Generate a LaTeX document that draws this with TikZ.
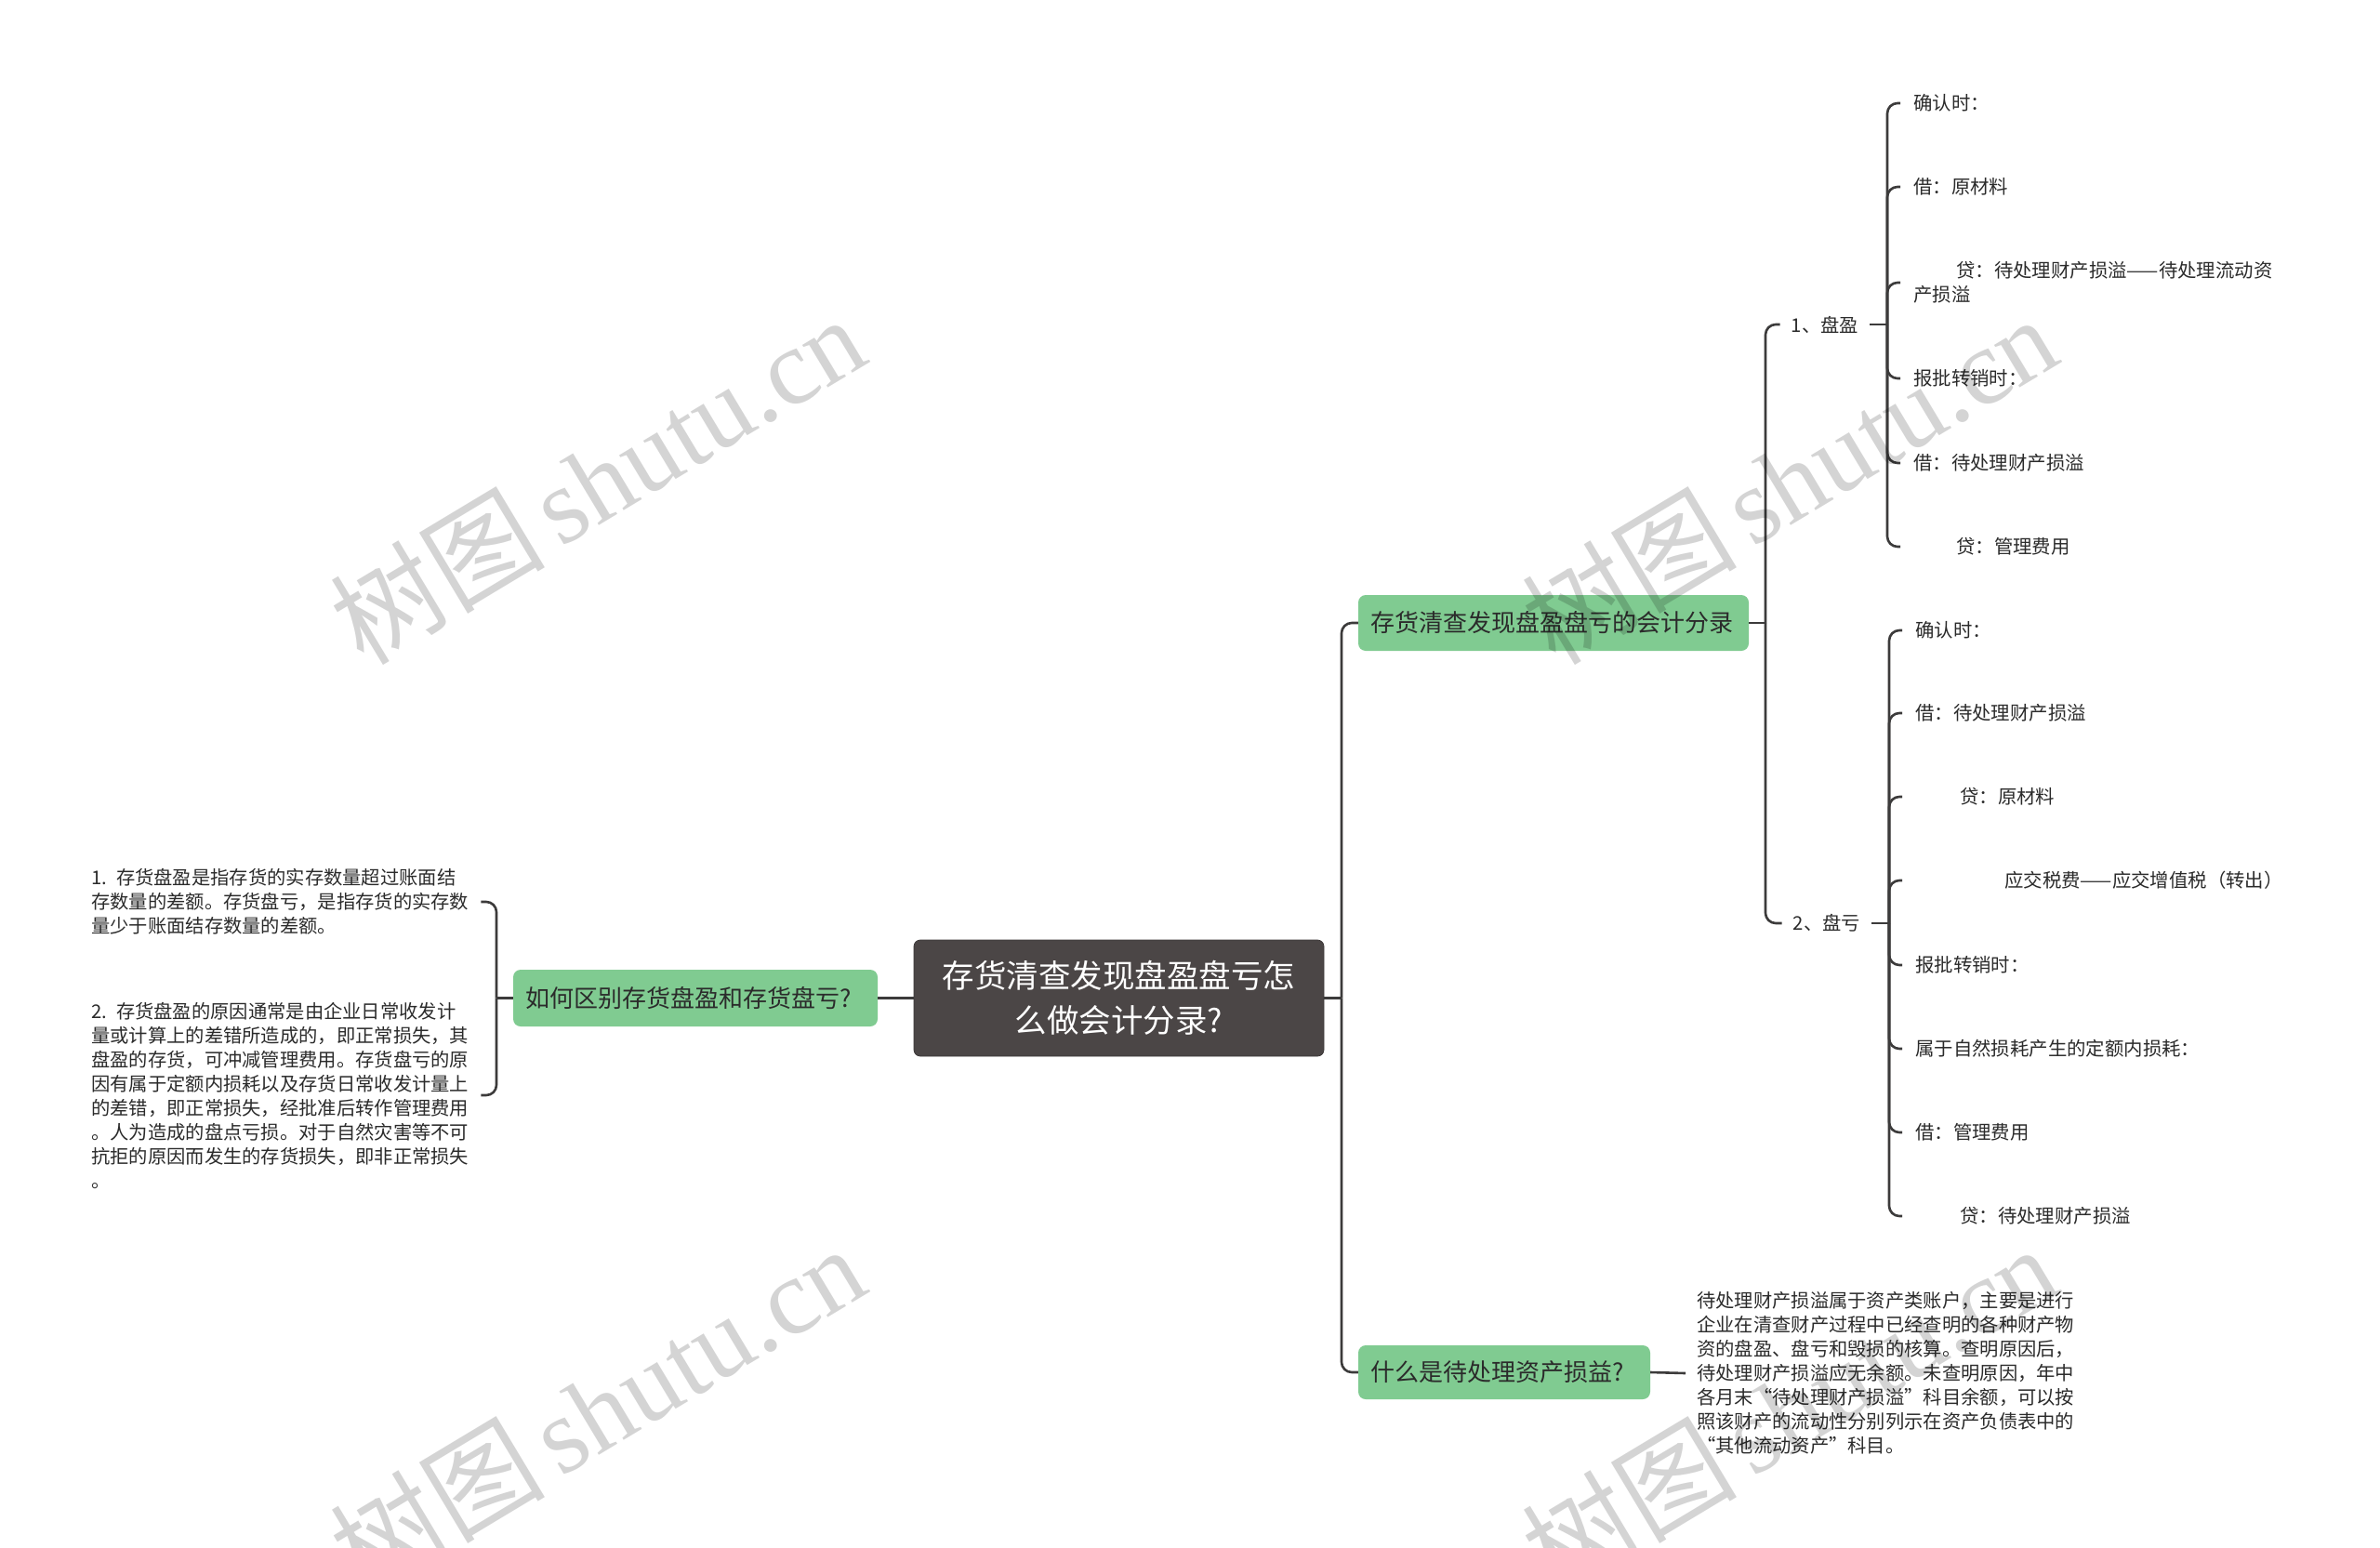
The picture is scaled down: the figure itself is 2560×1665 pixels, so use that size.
\documentclass[tikz,border=0pt]{standalone}
\usepackage{fontspec}
\setmainfont{Noto Sans CJK SC}
\newfontfamily\wmlatin{Liberation Serif}
\newfontfamily\wmcjk{Noto Sans CJK SC}
\definecolor{linec}{HTML}{3C3B3B}
\definecolor{centralfill}{HTML}{4B4646}
\definecolor{topicfill}{HTML}{80CB91}
\definecolor{textc}{HTML}{2B2B2B}
\tikzset{
  conn/.style={draw=linec, line width=2.6pt, rounded corners=11pt},
  centralbox/.style={fill=centralfill, draw=centralfill!80!black, line width=0.8pt, rounded corners=7pt,
    text=white, align=center, inner sep=0pt, minimum width=441pt, minimum height=125pt,
    font=\fontsize{34.5}{48}\selectfont},
  topicbox/.style={fill=topicfill, rounded corners=8pt, text=textc, align=left,
    inner xsep=13pt, inner ysep=0pt, font=\fontsize{26}{32}\selectfont},
  para/.style={anchor=west, text=textc, align=left, text width=410pt, inner xsep=9pt, inner ysep=0pt,
    font=\fontsize{20.3}{26}\selectfont},
  subnode/.style={text=textc, inner xsep=12pt, inner ysep=0pt, font=\fontsize{20.3}{26}\selectfont},
  leafnode/.style={anchor=west, text=textc, align=left, inner xsep=14pt, inner ysep=0pt,
    font=\fontsize{20.4}{26}\selectfont},
  wmark/.style={text=black, text opacity=0.17, rotate=31, inner sep=0pt,
    font=\fontsize{116}{116}\selectfont}
}
\begin{document}
\begin{tikzpicture}[x=1pt,y=-1pt]
\useasboundingbox[fill=white] (0,0) rectangle (2560,1665);

% main nodes
\node[centralbox] (c) at (1203.5,1073.5) {存货清查发现盘盈盘亏怎\\么做会计分录?};
\node[topicbox, text width=394pt, minimum height=60pt] (n1) at (1671,670) {存货清查发现盘盈盘亏的会计分录};
\node[topicbox, text width=366pt, minimum height=61pt] (n2) at (748,1073.5) {如何区别存货盘盈和存货盘亏?};
\node[topicbox, text width=288pt, minimum height=58pt] (n3) at (1618,1476) {什么是待处理资产损益?};

% left paragraphs
\node[para] (l1) at (89,970) {1.\hspace{10pt}存货盘盈是指存货的实存数量超过账面结\\存数量的差额。存货盘亏，是指存货的实存数\\量少于账面结存数量的差额。};
\node[para] (l2) at (89,1178) {2.\hspace{10pt}存货盘盈的原因通常是由企业日常收发计\\量或计算上的差错所造成的，即正常损失，其\\盘盈的存货，可冲减管理费用。存货盘亏的原\\因有属于定额内损耗以及存货日常收发计量上\\的差错，即正常损失，经批准后转作管理费用\\。人为造成的盘点亏损。对于自然灾害等不可\\抗拒的原因而发生的存货损失，即非正常损失\\。};

% bottom right paragraph
\node[para, inner xsep=12pt] (r3) at (1813,1477) {待处理财产损溢属于资产类账户，主要是进行\\企业在清查财产过程中已经查明的各种财产物\\资的盘盈、盘亏和毁损的核算。查明原因后，\\待处理财产损溢应无余额。未查明原因，年中\\各月末“待处理财产损溢”科目余额，可以按\\照该财产的流动性分别列示在资产负债表中的\\“其他流动资产”科目。};

% sub nodes
\node[subnode] (py) at (1963,349) {1、盘盈};
\node[subnode] (pk) at (1965,993) {2、盘亏};

% leaves of 1
\node[leafnode] (a1) at (2044,111) {确认时：};
\node[leafnode] (a2) at (2044,201) {借：原材料};
\node[leafnode] (a3) at (2044,304) {\hspace*{46pt}贷：待处理财产损溢——待处理流动资\\产损溢};
\node[leafnode] (a4) at (2044,407) {报批转销时：};
\node[leafnode] (a5) at (2044,498) {借：待处理财产损溢};
\node[leafnode] (a6) at (2044,588) {\hspace*{46pt}贷：管理费用};

% leaves of 2
\node[leafnode] (k1) at (2046,678) {确认时：};
\node[leafnode] (k2) at (2046,767) {借：待处理财产损溢};
\node[leafnode] (k3) at (2046,857) {\hspace*{48pt}贷：原材料};
\node[leafnode] (k4) at (2046,947) {\hspace*{96pt}应交税费——应交增值税（转出）};
\node[leafnode] (k5) at (2046,1038) {报批转销时：};
\node[leafnode] (k6) at (2046,1128) {属于自然损耗产生的定额内损耗：};
\node[leafnode] (k7) at (2046,1218) {借：管理费用};
\node[leafnode] (k8) at (2046,1308) {\hspace*{48pt}贷：待处理财产损溢};

% junction coordinates
\coordinate (t1) at (1443,1073.5);
\coordinate (tl) at (534,1073.5);
\coordinate (t2) at (1899,670);
\coordinate (b1) at (2030,349);
\coordinate (b2) at (2032,993);

% connectors
\draw[conn] (c.east) -- (t1);
\draw[conn] (t1) |- (n1.west);
\draw[conn] (t1) |- (n3.west);
\draw[conn] (c.west) -- (n2.east);
\draw[conn] (n2.west) -- (tl);
\draw[conn] (tl) |- (l1.east);
\draw[conn] (tl) |- (l2.east);
\draw[conn] (n3.east) -- (r3.west);
\draw[conn] (n1.east) -- (t2);
\draw[conn] (t2) |- (py.west);
\draw[conn] (t2) |- (pk.west);
\draw[conn] (py.east) -- (b1);
\draw[conn] (pk.east) -- (b2);
\foreach \n in {a1,a2,a3,a4,a5,a6} { \draw[conn] (b1) |- (\n.west); }
\foreach \n in {k1,k2,k3,k4,k5,k6,k7,k8} { \draw[conn] (b2) |- (\n.west); }

% watermarks
\node[wmark] (w1) at (642,515) {{\wmcjk 树图}\hspace{16pt}{\wmlatin shutu.cn}};
\node[wmark] (w2) at (642,1515) {{\wmcjk 树图}\hspace{16pt}{\wmlatin shutu.cn}};
\node[wmark] (w3) at (1924,515) {{\wmcjk 树图}\hspace{16pt}{\wmlatin shutu.cn}};
\node[wmark] (w4) at (1924,1515) {{\wmcjk 树图}\hspace{16pt}{\wmlatin shutu.cn}};
\end{tikzpicture}
\end{document}
